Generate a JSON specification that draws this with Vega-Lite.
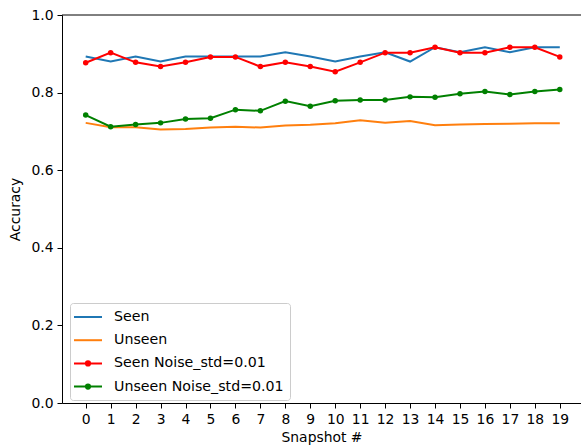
{
  "$schema": "https://vega.github.io/schema/vega-lite/v6.json",
  "autosize": "none",
  "width": 519,
  "height": 388,
  "padding": {"left": 62, "top": 15, "right": 0, "bottom": 45},
  "background": "white",
  "config": {
    "font": "DejaVu Sans",
    "view": {"stroke": null},
    "axis": {"grid": false, "domainColor": "black", "tickColor": "black", "labelColor": "black", "titleColor": "black", "labelFontSize": 13.9, "titleFontSize": 13.9, "titleFontWeight": "normal", "tickSize": 5, "labelPadding": 4, "domainWidth": 1, "tickWidth": 1}
  },
  "data": {"values": [
    {"x":0,"s":"Seen","v":0.893},{"x":1,"s":"Seen","v":0.880},{"x":2,"s":"Seen","v":0.893},{"x":3,"s":"Seen","v":0.880},{"x":4,"s":"Seen","v":0.893},{"x":5,"s":"Seen","v":0.893},{"x":6,"s":"Seen","v":0.893},{"x":7,"s":"Seen","v":0.893},{"x":8,"s":"Seen","v":0.904},{"x":9,"s":"Seen","v":0.893},{"x":10,"s":"Seen","v":0.880},{"x":11,"s":"Seen","v":0.893},{"x":12,"s":"Seen","v":0.904},{"x":13,"s":"Seen","v":0.880},{"x":14,"s":"Seen","v":0.917},{"x":15,"s":"Seen","v":0.904},{"x":16,"s":"Seen","v":0.917},{"x":17,"s":"Seen","v":0.904},{"x":18,"s":"Seen","v":0.917},{"x":19,"s":"Seen","v":0.917},
    {"x":0,"s":"Unseen","v":0.722},{"x":1,"s":"Unseen","v":0.711},{"x":2,"s":"Unseen","v":0.711},{"x":3,"s":"Unseen","v":0.705},{"x":4,"s":"Unseen","v":0.706},{"x":5,"s":"Unseen","v":0.710},{"x":6,"s":"Unseen","v":0.712},{"x":7,"s":"Unseen","v":0.710},{"x":8,"s":"Unseen","v":0.715},{"x":9,"s":"Unseen","v":0.717},{"x":10,"s":"Unseen","v":0.721},{"x":11,"s":"Unseen","v":0.729},{"x":12,"s":"Unseen","v":0.722},{"x":13,"s":"Unseen","v":0.727},{"x":14,"s":"Unseen","v":0.716},{"x":15,"s":"Unseen","v":0.718},{"x":16,"s":"Unseen","v":0.719},{"x":17,"s":"Unseen","v":0.720},{"x":18,"s":"Unseen","v":0.721},{"x":19,"s":"Unseen","v":0.721},
    {"x":0,"s":"Seen Noise_std=0.01","v":0.877},{"x":1,"s":"Seen Noise_std=0.01","v":0.903},{"x":2,"s":"Seen Noise_std=0.01","v":0.878},{"x":3,"s":"Seen Noise_std=0.01","v":0.867},{"x":4,"s":"Seen Noise_std=0.01","v":0.878},{"x":5,"s":"Seen Noise_std=0.01","v":0.892},{"x":6,"s":"Seen Noise_std=0.01","v":0.892},{"x":7,"s":"Seen Noise_std=0.01","v":0.867},{"x":8,"s":"Seen Noise_std=0.01","v":0.878},{"x":9,"s":"Seen Noise_std=0.01","v":0.867},{"x":10,"s":"Seen Noise_std=0.01","v":0.854},{"x":11,"s":"Seen Noise_std=0.01","v":0.878},{"x":12,"s":"Seen Noise_std=0.01","v":0.903},{"x":13,"s":"Seen Noise_std=0.01","v":0.903},{"x":14,"s":"Seen Noise_std=0.01","v":0.917},{"x":15,"s":"Seen Noise_std=0.01","v":0.903},{"x":16,"s":"Seen Noise_std=0.01","v":0.903},{"x":17,"s":"Seen Noise_std=0.01","v":0.917},{"x":18,"s":"Seen Noise_std=0.01","v":0.917},{"x":19,"s":"Seen Noise_std=0.01","v":0.892},
    {"x":0,"s":"Unseen Noise_std=0.01","v":0.742},{"x":1,"s":"Unseen Noise_std=0.01","v":0.712},{"x":2,"s":"Unseen Noise_std=0.01","v":0.718},{"x":3,"s":"Unseen Noise_std=0.01","v":0.722},{"x":4,"s":"Unseen Noise_std=0.01","v":0.732},{"x":5,"s":"Unseen Noise_std=0.01","v":0.734},{"x":6,"s":"Unseen Noise_std=0.01","v":0.756},{"x":7,"s":"Unseen Noise_std=0.01","v":0.753},{"x":8,"s":"Unseen Noise_std=0.01","v":0.778},{"x":9,"s":"Unseen Noise_std=0.01","v":0.765},{"x":10,"s":"Unseen Noise_std=0.01","v":0.779},{"x":11,"s":"Unseen Noise_std=0.01","v":0.781},{"x":12,"s":"Unseen Noise_std=0.01","v":0.781},{"x":13,"s":"Unseen Noise_std=0.01","v":0.789},{"x":14,"s":"Unseen Noise_std=0.01","v":0.788},{"x":15,"s":"Unseen Noise_std=0.01","v":0.797},{"x":16,"s":"Unseen Noise_std=0.01","v":0.803},{"x":17,"s":"Unseen Noise_std=0.01","v":0.795},{"x":18,"s":"Unseen Noise_std=0.01","v":0.803},{"x":19,"s":"Unseen Noise_std=0.01","v":0.808}
  ]},
  "encoding": {
    "x": {"field": "x", "type": "quantitative",
          "scale": {"domain": [-0.95, 19.85], "nice": false, "zero": false},
          "axis": {"values": [0,1,2,3,4,5,6,7,8,9,10,11,12,13,14,15,16,17,18,19], "title": "Snapshot #", "titlePadding": 5, "labelFlush": false, "labelOverlap": false}},
    "y": {"field": "v", "type": "quantitative",
          "scale": {"domain": [0, 1], "nice": false},
          "axis": {"values": [0, 0.2, 0.4, 0.6, 0.8, 1.0], "format": ".1f", "title": "Accuracy", "titlePadding": 8, "labelFlush": false}},
    "color": {"field": "s", "type": "nominal",
      "scale": {"domain": ["Seen", "Unseen", "Seen Noise_std=0.01", "Unseen Noise_std=0.01"], "range": ["#1f77b4", "#ff7f0e", "#ff0000", "#008000"]},
      "legend": {"title": null, "orient": "none", "legendX": 8, "legendY": 288, "direction": "vertical",
        "symbolType": "M-2,0H2", "symbolSize": 196, "symbolStrokeWidth": 2, "symbolOffset": 4,
        "labelFontSize": 14.2, "labelColor": "black", "labelOffset": 18, "rowPadding": 7.2, "labelLimit": 400,
        "padding": 6, "strokeColor": "#cccccc", "fillColor": "rgba(255,255,255,0.8)", "cornerRadius": 3,
        "encode": {"symbols": {"update": {
          "shape": [{"test": "indexof(datum.value, 'Noise') >= 0", "value": "M-2,0H2M0.3,0A0.3,0.3,0,1,1,-0.3,0A0.3,0.3,0,1,1,0.3,0Z"}, {"value": "M-2,0H2"}],
          "fill": [{"test": "indexof(datum.value, 'Noise') >= 0", "scale": "color", "field": "value"}, {"value": "transparent"}],
          "fillOpacity": {"value": 1}
        }}}}}
  },
  "layer": [
    {"mark": {"type": "line", "strokeWidth": 2}},
    {"transform": [{"filter": "indexof(datum.s, 'Noise') >= 0"}],
     "mark": {"type": "point", "filled": true, "size": 30, "opacity": 1}},
    {"mark": {"type": "rule", "color": "black", "strokeWidth": 1},
     "data": {"values": [{"t": 1}]},
     "encoding": {"x": {"value": 0}, "x2": {"value": 519}, "y": {"value": 0}, "color": null}}
  ]
}
